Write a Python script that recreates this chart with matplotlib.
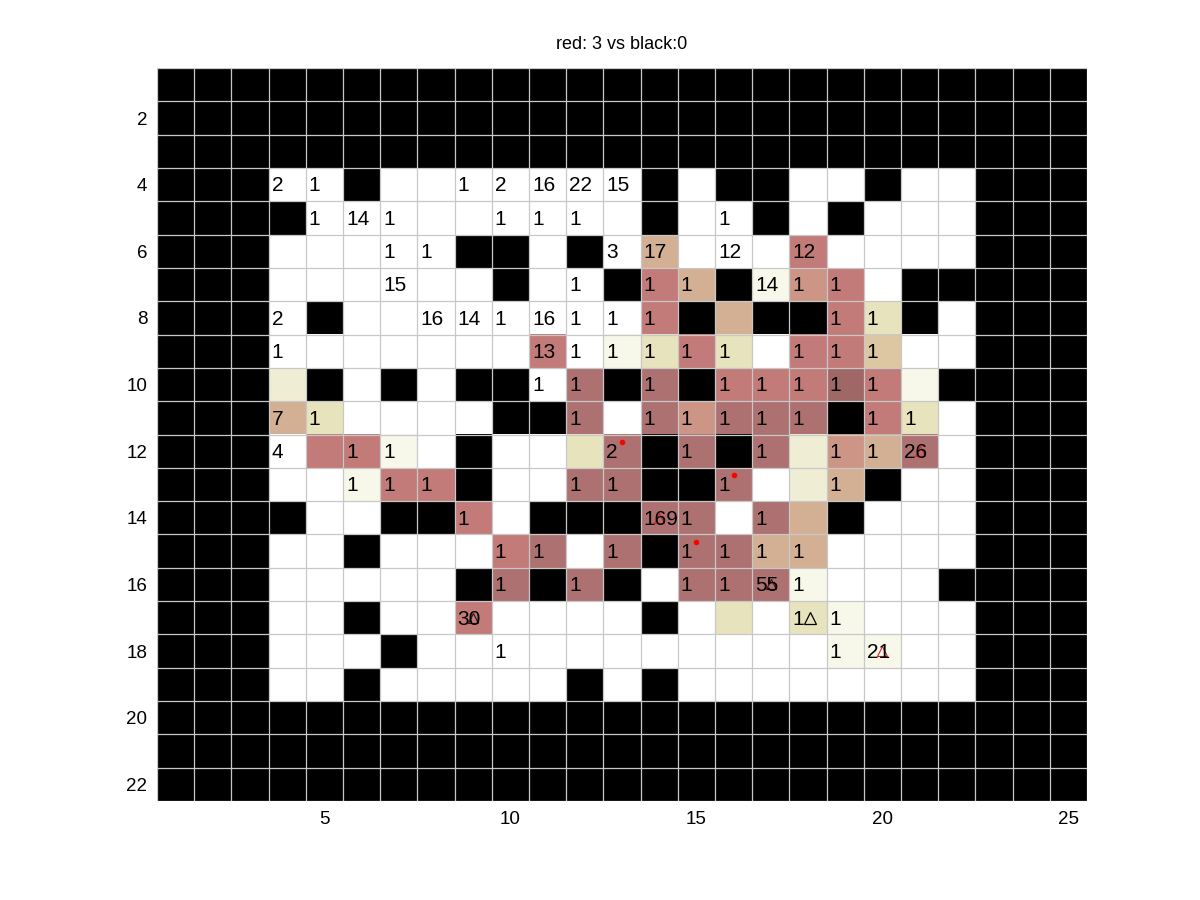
import numpy as np
import matplotlib
matplotlib.use("Agg")
from matplotlib import pyplot as plt
from matplotlib.colors import ListedColormap

plt.rcParams["font.family"] = ["Liberation Sans", "DejaVu Sans"]

# ---------------------------------------------------------------------------
# data: inner map (rows 4..19, columns 4..22), outside is wall
# '#' wall, '.' free, others = visit heat levels
# ---------------------------------------------------------------------------
n_rows, n_cols = 22, 25
inner_rows = [
    "..#.......#.##..#..",
    "#.........#..#.#...",
    ".....##.#.t...p....",
    "......#..#pt#vsp.##",
    ".#........p#t##py#.",
    ".......p.vypy.ppl..",
    "c#.#.##.m#m#pppdpv#",
    "ty....##m.msmmm#py.",
    ".ppv.#..ym#m#mcstm.",
    "..vpp#..mm##m.ct#..",
    "#..##p.###mm.mt#...",
    "..#...pm.m#mmtt....",
    ".....#m#m#.mmmv...#",
    "..#..p....#.y.yv...",
    "...#...........vv..",
    "..#.....#.#........",
]
level_codes = ["#", ".", "v", "c", "y", "l", "t", "s", "p", "m", "d"]
level_colors = ["#000000", "#ffffff", "#f7f7ea", "#efeed5", "#e7e3bd", "#dcc7a2",
                "#d3af94", "#cc9585", "#c27b79", "#ad7171", "#a06767"]

# (row, col, text)
labels = [
    (4, 4, "2"), (4, 5, "1"), (4, 9, "1"), (4, 10, "2"), (4, 11, "16"), (4, 12, "22"), (4, 13, "15"),
    (5, 5, "1"), (5, 6, "14"), (5, 7, "1"), (5, 10, "1"), (5, 11, "1"), (5, 12, "1"), (5, 16, "1"),
    (6, 7, "1"), (6, 8, "1"), (6, 13, "3"), (6, 14, "17"), (6, 16, "12"), (6, 18, "12"),
    (7, 7, "15"), (7, 12, "1"), (7, 14, "1"), (7, 15, "1"), (7, 17, "14"), (7, 18, "1"), (7, 19, "1"),
    (8, 4, "2"), (8, 8, "16"), (8, 9, "14"), (8, 10, "1"), (8, 11, "16"), (8, 12, "1"), (8, 13, "1"),
    (8, 14, "1"), (8, 19, "1"), (8, 20, "1"),
    (9, 4, "1"), (9, 11, "13"), (9, 12, "1"), (9, 13, "1"), (9, 14, "1"), (9, 15, "1"), (9, 16, "1"),
    (9, 18, "1"), (9, 19, "1"), (9, 20, "1"),
    (10, 11, "1"), (10, 12, "1"), (10, 14, "1"), (10, 16, "1"), (10, 17, "1"), (10, 18, "1"),
    (10, 19, "1"), (10, 20, "1"),
    (11, 4, "7"), (11, 5, "1"), (11, 12, "1"), (11, 14, "1"), (11, 15, "1"), (11, 16, "1"),
    (11, 17, "1"), (11, 18, "1"), (11, 20, "1"), (11, 21, "1"),
    (12, 4, "4"), (12, 6, "1"), (12, 7, "1"), (12, 13, "2"), (12, 15, "1"), (12, 17, "1"),
    (12, 19, "1"), (12, 20, "1"), (12, 21, "26"),
    (13, 6, "1"), (13, 7, "1"), (13, 8, "1"), (13, 12, "1"), (13, 13, "1"), (13, 16, "1"), (13, 19, "1"),
    (14, 9, "1"), (14, 14, "169"), (14, 15, "1"), (14, 17, "1"),
    (15, 10, "1"), (15, 11, "1"), (15, 13, "1"), (15, 15, "1"), (15, 16, "1"), (15, 17, "1"), (15, 18, "1"),
    (16, 10, "1"), (16, 12, "1"), (16, 15, "1"), (16, 16, "1"), (16, 17, "55"), (16, 18, "1"),
    (17, 9, "30"), (17, 18, "1"), (17, 19, "1"),
    (18, 10, "1"), (18, 19, "1"), (18, 20, "21"),
]
red_dots = [(12, 13), (13, 16), (15, 15)]
red_triangles = [(14, 14), (12, 21), (18, 20)]
dark_triangles = [(16, 17), (17, 9)]
black_triangle = [(17, 18)]

title_text = "red: 3 vs black:0"

# ---------------------------------------------------------------------------
grid = np.zeros((n_rows, n_cols), dtype=int)
for i, line in enumerate(inner_rows):
    for j, ch in enumerate(line):
        grid[3 + i, 3 + j] = level_codes.index(ch)

fig = plt.figure(figsize=(12, 9), dpi=100)
ax = fig.add_axes([0.1308, 0.11, 0.775, 0.8144])
cmap = ListedColormap(level_colors)
ax.imshow(grid, cmap=cmap, vmin=-0.5, vmax=len(level_colors) - 0.5,
          extent=(0.5, n_cols + 0.5, n_rows + 0.5, 0.5), aspect="auto",
          interpolation="nearest")

# cell grid lines
for x in np.arange(0.5, n_cols + 1):
    ax.axvline(x, color="#c8c8c8", lw=0.9, zorder=2)
for y in np.arange(0.5, n_rows + 1):
    ax.axhline(y, color="#c8c8c8", lw=0.9, zorder=2)

def rc(points):
    r = np.array([p[0] for p in points], dtype=float)
    c = np.array([p[1] for p in points], dtype=float)
    return r, c

r, c = rc(red_triangles)
ax.plot(c, r, "^", ms=7, mfc="none", mec="#e02020", mew=0.8, zorder=3)
r, c = rc(dark_triangles)
ax.plot(c, r, "^", ms=7, mfc="none", mec="#301010", mew=0.8, zorder=3)
r, c = rc(black_triangle)
ax.plot(c + 0.05, r, "^", ms=9, mfc="none", mec="black", mew=0.9, zorder=3)

for row, col, txt in labels:
    ax.text(col - 0.42, row + 0.04, txt, fontsize=15, ha="left", va="center",
            color="black", zorder=4)

r, c = rc(red_dots)
ax.plot(c, r - 0.27, "o", ms=3, color="red", mec="red", zorder=5)

ax.set_xlim(0.5, n_cols + 0.5)
ax.set_ylim(n_rows + 0.5, 0.5)
ax.set_xticks(np.arange(5, n_cols + 1, 5))
ax.set_yticks(np.arange(2, n_rows + 1, 2))
ax.tick_params(length=0, labelsize=13.5, pad=7)
for s in ax.spines.values():
    s.set_visible(False)
ax.set_title(title_text, fontsize=13, pad=14)

fig.savefig("out.png", dpi=100, facecolor="white")
